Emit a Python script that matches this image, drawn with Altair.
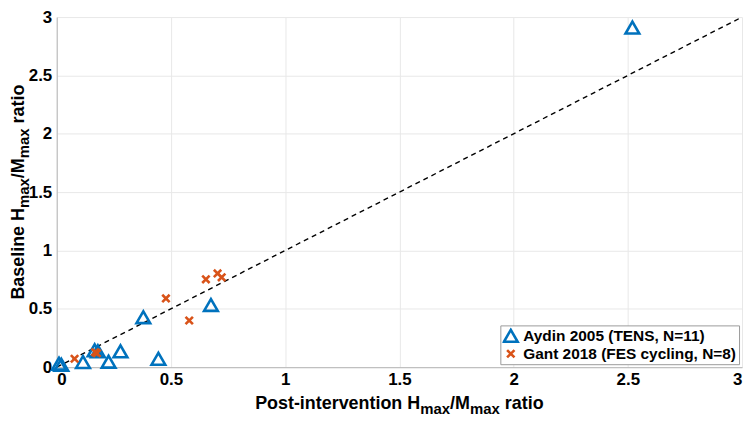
import altair as alt
import pandas as pd

# Aydin 2005 (TENS, N=11)
aydin_x = [0.01, 0.02, 0.115, 0.166, 0.18, 0.227, 0.279, 0.379, 0.445, 0.675, 2.52]
aydin_y = [0.03, 0.02, 0.044, 0.144, 0.136, 0.047, 0.136, 0.428, 0.072, 0.533, 2.91]
# Gant 2018 (FES cycling, N=8)
gant_x = [0.078, 0.168, 0.176, 0.478, 0.58, 0.653, 0.704, 0.722]
gant_y = [0.072, 0.128, 0.12, 0.589, 0.40, 0.753, 0.803, 0.77]

series_names = ["Aydin 2005 (TENS, N=11)", "Gant 2018 (FES cycling, N=8)"]
series_colors = ["#0072BD", "#D95319"]
ticks = [0, 0.5, 1, 1.5, 2, 2.5, 3]
ident_x = [0, 3]
ident_y = [0, 3]

# axis titles with subscripts: (text, is_subscript)
x_title_parts = [("Post-intervention H", False), ("max", True), ("/M", False), ("max", True), ("ratio", False)]
y_title_parts = [("Baseline H", False), ("max", True), ("/M", False), ("max", True), ("ratio", False)]

rows = []
for x, y in zip(aydin_x, aydin_y):
    rows.append({"x": x, "y": y, "study": series_names[0]})
for x, y in zip(gant_x, gant_y):
    rows.append({"x": x, "y": y, "study": series_names[1]})
df = pd.DataFrame(rows)
line_df = pd.DataFrame({"x": ident_x, "y": ident_y})

FONT = "Liberation Sans"
TOP = 8
W, H = 689, 352
MAIN_FS, SUB_FS = 18, 15
SUB_SHIFT = 5

# Helvetica/Arial bold advance widths (per 1000 em)
AW = {" ": 278, "P": 667, "o": 611, "s": 556, "t": 333, "-": 333, "i": 278, "n": 611,
      "e": 556, "r": 389, "v": 556, "H": 722, "m": 889, "a": 556, "x": 556, "/": 278,
      "M": 833, "B": 722, "l": 278}


def text_width(s, fs):
    return sum(AW.get(c, 556) for c in s) * fs / 1000.0


def layout(parts):
    out = []
    pos = 0.0
    for txt, sub in parts:
        fs = SUB_FS if sub else MAIN_FS
        if txt == "ratio":
            pos += text_width(" ", MAIN_FS)
        out.append((txt, fs, pos, sub))
        pos += text_width(txt, fs)
    return out, pos


xscale = alt.Scale(domain=[0, 3], nice=False, zero=False)
yscale = alt.Scale(domain=[0, 3], nice=False, zero=False)

common_axis = dict(values=ticks, title=None, labelFontSize=17, labelFontWeight="bold",
                   labelFont=FONT, labelColor="black", ticks=False,
                   domainColor="#b5b5b5", gridColor="#e8e8e8", labelExpr="datum.value")
xaxis = alt.Axis(labelPadding=4, **common_axis)
yaxis = alt.Axis(labelPadding=5, **common_axis)

diag = alt.Chart(line_df).mark_line(color="black", strokeDash=[5, 4], strokeWidth=1.4).encode(
    x=alt.X("x:Q", scale=xscale, axis=xaxis),
    y=alt.Y("y:Q", scale=yscale, axis=yaxis),
)

cross_path = "M-1,-1L1,1M1,-1L-1,1"

pts = alt.Chart(df).mark_point(filled=False, strokeWidth=2.6, opacity=1).encode(
    x=alt.X("x:Q", scale=xscale),
    y=alt.Y("y:Q", scale=yscale),
    color=alt.Color("study:N", scale=alt.Scale(domain=series_names, range=series_colors),
                    legend=alt.Legend(title=None)),
    shape=alt.Shape("study:N", scale=alt.Scale(domain=series_names, range=["triangle-up", cross_path]),
                    legend=alt.Legend(title=None)),
    size=alt.Size("study:N", scale=alt.Scale(domain=series_names, range=[190, 55]), legend=None),
)

layers = [diag, pts]

# x-axis title pieces
xparts, xtotal = layout(x_title_parts)
x_start = W / 2 - xtotal / 2
x_base = H + 42
for txt, fs, off, sub in xparts:
    layers.append(
        alt.Chart(pd.DataFrame({"t": [txt]})).mark_text(
            font=FONT, fontSize=fs, fontWeight="bold", color="black",
            align="left", baseline="alphabetic",
        ).encode(text="t:N", x=alt.value(x_start + off), y=alt.value(x_base + (SUB_SHIFT if sub else 0)))
    )

# y-axis title pieces (rotated, reading bottom to top)
yparts, ytotal = layout(y_title_parts)
y_start = H / 2 + ytotal / 2
y_base = -33
for txt, fs, off, sub in yparts:
    layers.append(
        alt.Chart(pd.DataFrame({"t": [txt]})).mark_text(
            font=FONT, fontSize=fs, fontWeight="bold", color="black",
            align="left", baseline="alphabetic", angle=270,
        ).encode(text="t:N", x=alt.value(y_base + (SUB_SHIFT if sub else 0)), y=alt.value(y_start - off))
    )

chart = alt.layer(*layers).properties(
    width=W, height=H,
    autosize=alt.AutoSizeParams(type="none"),
    padding={"left": 49, "top": TOP, "right": 6, "bottom": 413 - TOP - H},
).configure_view(stroke=None).configure_legend(
    orient="none", legendX=446, legendY=310,
    labelFont=FONT, labelFontSize=15.5, labelFontWeight="bold", labelColor="black",
    strokeColor="#9a9a9a", fillColor="white", padding=2, rowPadding=1, labelOffset=4,
    clipHeight=17,
    symbolStrokeWidth=2.6, symbolSize=130, cornerRadius=0, labelLimit=400,
)

chart.save("out.html", embed_options={"renderer": "svg", "actions": False})
